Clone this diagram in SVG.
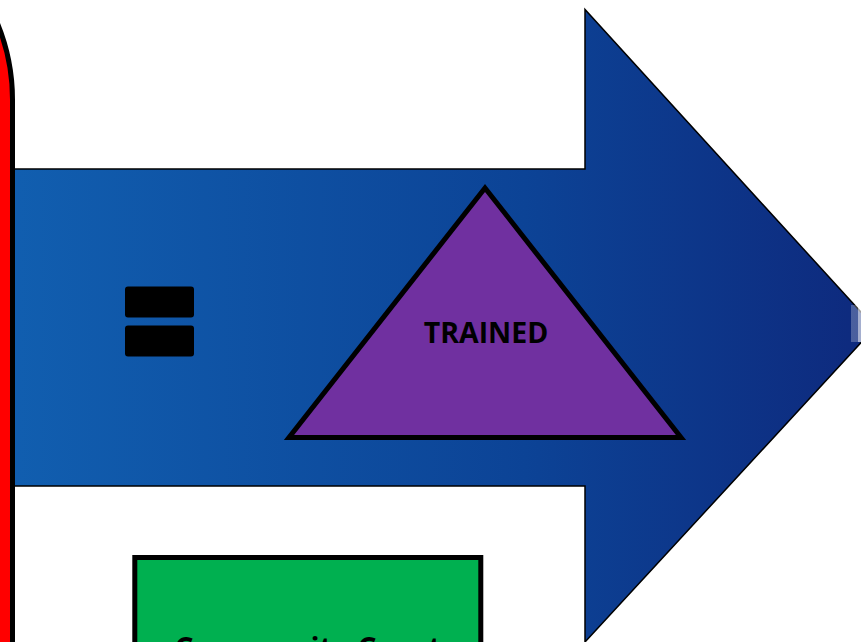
<svg xmlns="http://www.w3.org/2000/svg" width="861" height="642" viewBox="0 0 861 642">
  <defs>
    <linearGradient id="arrowGrad" gradientUnits="userSpaceOnUse" x1="0" y1="0" x2="875" y2="0">
      <stop offset="0" stop-color="#115FB0"/>
      <stop offset="0.6" stop-color="#0C4396"/>
      <stop offset="1" stop-color="#0E297D"/>
    </linearGradient>
    <style>
      .lbl { font-family: "Open Sans", "Liberation Sans", sans-serif; font-weight: 700; fill: #000; text-anchor: middle; }
      .eq { fill: #000; }
    </style>
  </defs>
  <rect width="861" height="642" fill="#FFFFFF"/>
  <g id="arrow">
    <path d="M -5,169 L 585,169 L 585,9.5 L 875,327.5 L 585,642 L 585,486 L -5,486 Z" fill="url(#arrowGrad)" stroke="#000" stroke-width="1.5" stroke-linejoin="miter"/>
  </g>
  <g id="edge-element">
    <rect x="851" y="305" width="10" height="37" fill="#FFFFFF" opacity="0.25"/>
    <rect x="858" y="305" width="3" height="37" fill="#FFFFFF" opacity="0.5"/>
  </g>
  <g id="left-panel">
    <path d="M 12.5,660 L 12.5,100 A 200 200 0 0 0 -4,20 L -30,20 L -30,660 Z" fill="#FF0000" stroke="#000" stroke-width="5"/>
  </g>
  <g id="equals">
    <rect class="eq" x="125" y="286.5" width="69" height="31" rx="3"/>
    <rect class="eq" x="125" y="325.5" width="69" height="31" rx="3"/>
  </g>
  <g id="trained">
    <polygon points="485,188 289,437.5 681,437.5" fill="#7030A0" stroke="#000" stroke-width="5" stroke-linejoin="miter"/>
    <text class="lbl" x="486" y="343.3" font-size="28.5">TRAINED</text>
  </g>
  <g id="community">
    <rect x="134.8" y="557.5" width="346" height="120" fill="#00B050" stroke="#000" stroke-width="5"/>
    <text class="lbl" x="308" y="659" font-size="30">Community Court</text>
  </g>
  <g id="connectors"></g>
</svg>
